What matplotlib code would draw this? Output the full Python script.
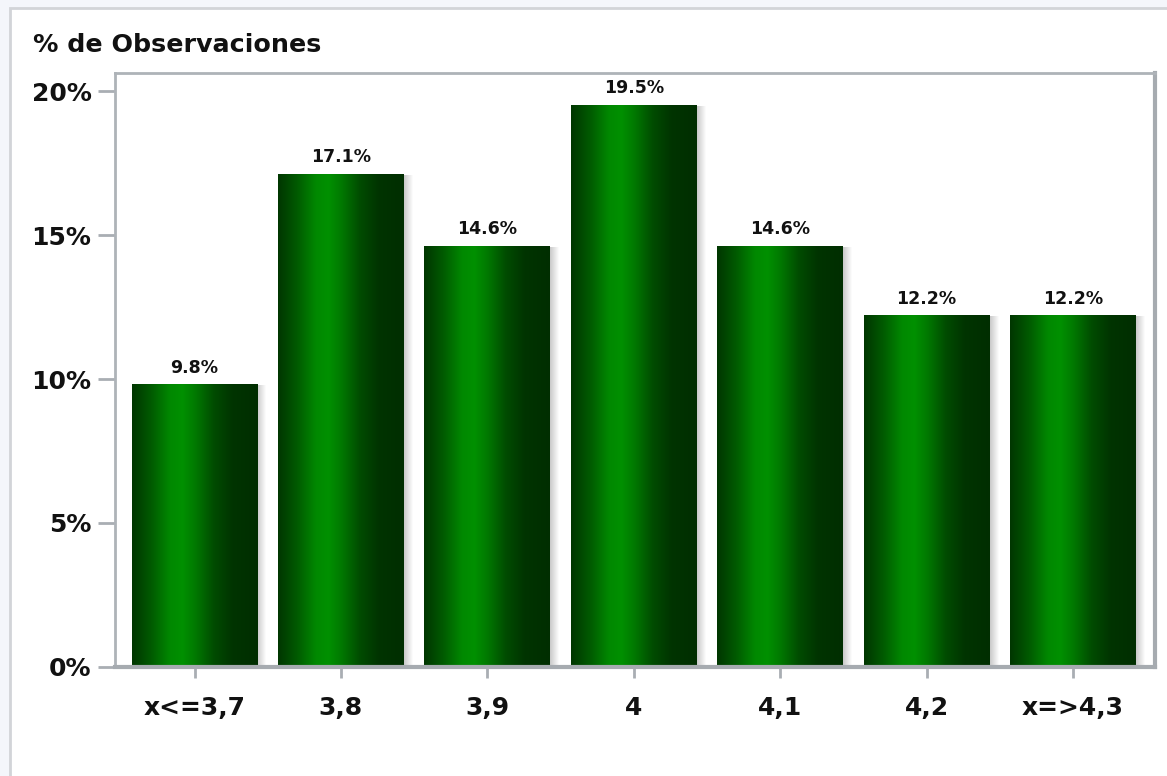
import matplotlib
matplotlib.use("Agg")
import matplotlib.pyplot as plt
import numpy as np
from matplotlib.colors import LinearSegmentedColormap
from matplotlib.patches import Rectangle

categories = ["x<=3,7", "3,8", "3,9", "4", "4,1", "4,2", "x=>4,3"]
values = [9.8, 17.1, 14.6, 19.5, 14.6, 12.2, 12.2]
yticks = [0, 5, 10, 15, 20]
ytick_labels = ["0%", "5%", "10%", "15%", "20%"]
title = "% de Observaciones"

W, H = 1167, 776
fig = plt.figure(figsize=(W / 100, H / 100), dpi=100)
fig.patch.set_facecolor("#f4f6fb")

# white panel
panel = Rectangle((10 / W, -0.01), 1.0, 1 - 8 / H + 0.01, transform=fig.transFigure,
                  facecolor="white", edgecolor="#d2d4d8", linewidth=2, zorder=-5)
fig.patches.append(panel)

ax = fig.add_axes([115 / W, 1 - 667 / H, 1040 / W, (667 - 73) / H])
ax.set_zorder(2)
ax.set_facecolor("white")
ax.set_xlim(-0.543, 6.56)
ax.set_ylim(0, 20.625)

x = np.arange(len(categories))
bars = ax.bar(x, values, width=0.86, color="none", edgecolor="none", zorder=2)

cmap = LinearSegmentedColormap.from_list("g", [
    (0.0, "#003600"), (0.15, "#005a00"), (0.3, "#008800"), (0.4, "#009000"),
    (0.5, "#007a00"), (0.65, "#004c00"), (0.8, "#003400"), (1.0, "#002e00")])
grad = np.linspace(0, 1, 256).reshape(1, -1)
shadow_cmap = LinearSegmentedColormap.from_list("s", ["#c8c8c8", "#ffffff"])
ppu = 1040 / (6.56 + 0.543)
for b in bars:
    x0, w, h = b.get_x(), b.get_width(), b.get_height()
    sw = 9 / ppu
    ax.imshow(grad, extent=(x0 + w, x0 + w + sw, 0, h - 0.03), cmap=shadow_cmap,
              aspect="auto", zorder=1, interpolation="bilinear")
    ax.imshow(grad, extent=(x0, x0 + w, 0, h), cmap=cmap, aspect="auto",
              zorder=2, interpolation="bilinear")
    ax.text(x0 + w / 2, h + 0.28, f"{h:.1f}%", ha="center", va="bottom",
            fontsize=12.5, fontweight="bold", color="#111111", zorder=3)
ax.set_xlim(-0.543, 6.56)
ax.set_ylim(0, 20.625)

ax.set_xticks(x)
ax.set_xticklabels(categories)
ax.set_yticks(yticks)
ax.set_yticklabels(ytick_labels)
for lab in ax.get_xticklabels() + ax.get_yticklabels():
    lab.set_fontsize(18)
    lab.set_fontweight("bold")
    lab.set_color("#111111")
ax.tick_params(axis="x", length=8, width=2, color="#a9aeb3", pad=13)
ax.tick_params(axis="y", length=12, width=2, color="#a9aeb3", pad=5)

for side in ["top", "left"]:
    ax.spines[side].set_color("#aeb3b8")
    ax.spines[side].set_linewidth(2)
for side in ["right", "bottom"]:
    ax.spines[side].set_color("#a6abb0")
    ax.spines[side].set_linewidth(3)

fig.text(33 / W, 1 - 45 / H, title, ha="left", va="center", fontsize=18.3,
         fontweight="bold", color="#111111")

fig.savefig("out.png", dpi=100, facecolor=fig.get_facecolor())
